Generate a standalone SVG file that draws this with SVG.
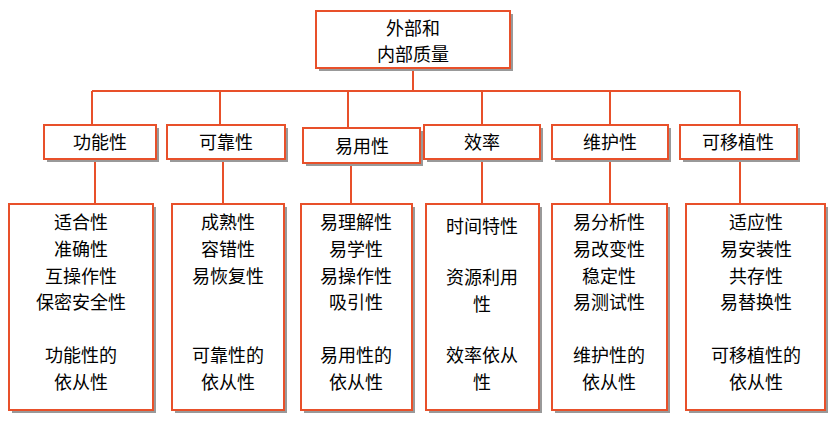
<svg xmlns="http://www.w3.org/2000/svg" width="839" height="423" viewBox="0 0 839 423">
<style>
.b{fill:#fff;stroke:#E8502A;stroke-width:2}
.s{fill:#999}
.t{font-family:"Noto Sans CJK SC",sans-serif;font-size:18px;fill:#000;text-anchor:middle}
.c{stroke:#E8502A;stroke-width:2;fill:none}
</style>
<rect width="839" height="423" fill="#fff"/>
<g id="connectors" class="c">
<path d="M413 68V91M92 91H740M92 91V125M220 91V125M348 91V128M482 91V125M610 91V125M740 91V125"/>
<path d="M95 159V204M223 159V204M351 163V204M482 159V204M610 159V204M740 159V204"/>
</g>
<g id="root"><rect class="s" x="319" y="14" width="194" height="57"/><rect class="b" x="316" y="11" width="194" height="57"/><text class="t" x="413" y="35">外部和</text><text class="t" x="413" y="61">内部质量</text></g>
<g id="n1"><rect class="s" x="47" y="128" width="112" height="34"/><rect class="b" x="44" y="125" width="112" height="34"/><text class="t" x="100" y="149">功能性</text></g>
<g id="n2"><rect class="s" x="170" y="128" width="118" height="34"/><rect class="b" x="167" y="125" width="118" height="34"/><text class="t" x="226" y="149">可靠性</text></g>
<g id="n3"><rect class="s" x="306" y="131" width="117" height="35"/><rect class="b" x="303" y="128" width="117" height="35"/><text class="t" x="362" y="153">易用性</text></g>
<g id="n4"><rect class="s" x="427" y="128" width="116" height="34"/><rect class="b" x="424" y="125" width="116" height="34"/><text class="t" x="482" y="149">效率</text></g>
<g id="n5"><rect class="s" x="555" y="128" width="116" height="34"/><rect class="b" x="552" y="125" width="116" height="34"/><text class="t" x="610" y="149">维护性</text></g>
<g id="n6"><rect class="s" x="683" y="128" width="117" height="34"/><rect class="b" x="680" y="125" width="117" height="34"/><text class="t" x="738" y="149">可移植性</text></g>
<g id="d1"><rect class="s" x="12" y="207" width="144" height="206"/><rect class="b" x="9" y="204" width="144" height="206"/><text class="t"><tspan x="81" y="229">适合性</tspan><tspan x="81" y="256">准确性</tspan><tspan x="81" y="283">互操作性</tspan><tspan x="81" y="309">保密安全性</tspan><tspan x="81" y="362">功能性的</tspan><tspan x="81" y="389">依从性</tspan></text></g>
<g id="d2"><rect class="s" x="175" y="207" width="112" height="206"/><rect class="b" x="172" y="204" width="112" height="206"/><text class="t"><tspan x="228" y="229">成熟性</tspan><tspan x="228" y="256">容错性</tspan><tspan x="228" y="283">易恢复性</tspan><tspan x="228" y="362">可靠性的</tspan><tspan x="228" y="389">依从性</tspan></text></g>
<g id="d3"><rect class="s" x="304" y="207" width="111" height="206"/><rect class="b" x="301" y="204" width="111" height="206"/><text class="t"><tspan x="356" y="229">易理解性</tspan><tspan x="356" y="256">易学性</tspan><tspan x="356" y="283">易操作性</tspan><tspan x="356" y="309">吸引性</tspan><tspan x="356" y="362">易用性的</tspan><tspan x="356" y="389">依从性</tspan></text></g>
<g id="d4"><rect class="s" x="429" y="207" width="113" height="206"/><rect class="b" x="426" y="204" width="113" height="206"/><text class="t"><tspan x="482" y="233">时间特性</tspan><tspan x="482" y="284">资源利用</tspan><tspan x="482" y="311">性</tspan><tspan x="482" y="362">效率依从</tspan><tspan x="482" y="389">性</tspan></text></g>
<g id="d5"><rect class="s" x="555" y="207" width="115" height="206"/><rect class="b" x="552" y="204" width="115" height="206"/><text class="t"><tspan x="609" y="229">易分析性</tspan><tspan x="609" y="256">易改变性</tspan><tspan x="609" y="283">稳定性</tspan><tspan x="609" y="309">易测试性</tspan><tspan x="609" y="362">维护性的</tspan><tspan x="609" y="389">依从性</tspan></text></g>
<g id="d6"><rect class="s" x="689" y="207" width="139" height="206"/><rect class="b" x="686" y="204" width="139" height="206"/><text class="t"><tspan x="756" y="229">适应性</tspan><tspan x="756" y="256">易安装性</tspan><tspan x="756" y="283">共存性</tspan><tspan x="756" y="309">易替换性</tspan><tspan x="756" y="362">可移植性的</tspan><tspan x="756" y="389">依从性</tspan></text></g>
</svg>
